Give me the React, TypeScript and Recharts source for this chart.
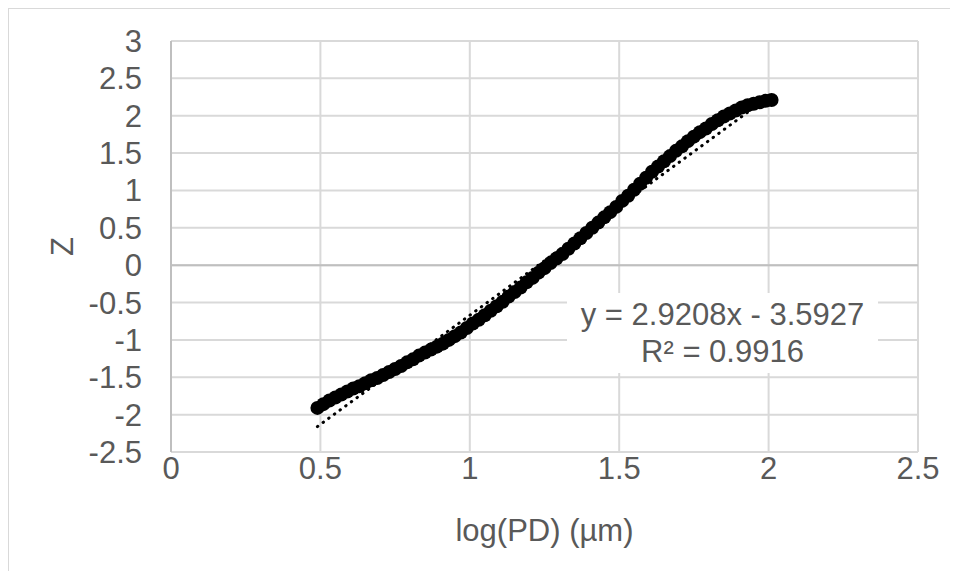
import React from "react";
import {
  CartesianGrid,
  ReferenceLine,
  Scatter,
  ScatterChart,
  XAxis,
  YAxis
} from "recharts";

// log(PD) values and matching Z scores
const LOG_PD = [
  0.49, 0.51, 0.53, 0.55, 0.57, 0.59, 0.61, 0.63, 0.65, 0.67, 0.69, 0.71, 0.73, 0.75, 0.77, 0.79,
  0.81, 0.83, 0.85, 0.87, 0.89, 0.91, 0.93, 0.95, 0.97, 0.99, 1.01, 1.03, 1.05, 1.07, 1.09, 1.11,
  1.13, 1.15, 1.17, 1.19, 1.21, 1.23, 1.25, 1.27, 1.29, 1.31, 1.33, 1.35, 1.37, 1.39, 1.41, 1.43,
  1.45, 1.47, 1.49, 1.51, 1.53, 1.55, 1.57, 1.59, 1.61, 1.63, 1.65, 1.67, 1.69, 1.71, 1.73, 1.75,
  1.77, 1.79, 1.81, 1.83, 1.85, 1.87, 1.89, 1.91, 1.93, 1.95, 1.97, 1.99, 2.01
];
const Z_SCORE = [
  -1.91, -1.86, -1.81, -1.77, -1.73, -1.69, -1.65, -1.62, -1.58, -1.54, -1.51, -1.47, -1.43, -1.39, -1.35, -1.3,
  -1.26, -1.21, -1.17, -1.13, -1.09, -1.05, -1.0, -0.95, -0.9, -0.84, -0.78, -0.73, -0.67, -0.61, -0.55, -0.49,
  -0.42, -0.36, -0.3, -0.23, -0.17, -0.1, -0.04, 0.03, 0.09, 0.15, 0.22, 0.29, 0.36, 0.43, 0.5, 0.57,
  0.64, 0.71, 0.78, 0.86, 0.93, 1.01, 1.09, 1.17, 1.25, 1.32, 1.39, 1.46, 1.53, 1.59, 1.66, 1.72,
  1.78, 1.83, 1.89, 1.94, 1.99, 2.03, 2.07, 2.11, 2.14, 2.16, 2.18, 2.2, 2.21
];

// linear trendline ends
const TREND_X = [0.49, 2.01];
const TREND_Y = [-2.16, 2.28];

const X_TICKS = [0, 0.5, 1, 1.5, 2, 2.5];
const Y_TICKS = [-2.5, -2, -1.5, -1, -0.5, 0, 0.5, 1, 1.5, 2, 2.5, 3];

const EQUATION = "y = 2.9208x - 3.5927";
const R_SQUARED = "R² = 0.9916";

const FONT = "'Liberation Sans', Arial, sans-serif";
const FS = 31;
const TEXT = "#595959";
const GRID = "#d9d9d9";
const AXIS = "#bfbfbf";

const points = LOG_PD.map((x, i) => ({ x, z: Z_SCORE[i] }));
const trend = TREND_X.map((x, i) => ({ x, z: TREND_Y[i] }));

const Dot = (props: any) => <circle cx={props.cx} cy={props.cy} r={7} fill="#000" />;
const NoDot = () => <g />;

export default function App() {
  return (
    <div
      style={{
        position: "relative",
        width: 942,
        height: 563,
        borderLeft: `1px solid ${GRID}`,
        borderTop: `1px solid ${GRID}`,
        boxSizing: "border-box",
        background: "#fff",
        fontFamily: FONT
      }}
    >
      <ScatterChart
        width={941}
        height={562}
        margin={{ top: 32, right: 32, bottom: 39, left: 0 }}
      >
        <CartesianGrid stroke={GRID} strokeWidth={2} />
        <XAxis
          type="number"
          dataKey="x"
          domain={[0, 2.5]}
          ticks={X_TICKS}
          interval={0}
          axisLine={false}
          tickLine={false}
          tickSize={0}
          tickMargin={5}
          height={80}
          tick={{ fill: TEXT, fontSize: FS, fontFamily: FONT }}
          label={(p: any) => (
            <text
              x={p.viewBox.x + p.viewBox.width / 2}
              y={521}
              dy="0.355em"
              textAnchor="middle"
              fill={TEXT}
              fontSize={FS}
              fontFamily={FONT}
            >
              log(PD) (µm)
            </text>
          )}
        />
        <YAxis
          type="number"
          dataKey="z"
          domain={[-2.5, 3]}
          ticks={Y_TICKS}
          interval={0}
          width={162}
          axisLine={{ stroke: AXIS, strokeWidth: 2 }}
          tickLine={false}
          tickSize={0}
          tickMargin={29}
          tick={{ fill: TEXT, fontSize: FS, fontFamily: FONT }}
          label={(p: any) => (
            <text
              x={53}
              y={p.viewBox.y + p.viewBox.height / 2}
              dy="0.355em"
              textAnchor="middle"
              fill={TEXT}
              fontSize={FS}
              fontFamily={FONT}
              transform={`rotate(-90 53 ${p.viewBox.y + p.viewBox.height / 2})`}
            >
              Z
            </text>
          )}
        />
        <ReferenceLine y={0} stroke={AXIS} strokeWidth={2} />
        <Scatter data={points} shape={Dot} isAnimationActive={false} />
        <Scatter
          data={trend}
          shape={NoDot}
          line={{ stroke: "#000", strokeWidth: 3, strokeDasharray: "0.5 6.5", strokeLinecap: "round" }}
          isAnimationActive={false}
        />
      </ScatterChart>
      <div
        style={{
          position: "absolute",
          left: 558,
          top: 284,
          width: 311,
          height: 80,
          background: "#fff",
          color: TEXT,
          fontSize: FS,
          lineHeight: "37px",
          paddingTop: 3,
          boxSizing: "border-box",
          textAlign: "center",
          whiteSpace: "nowrap"
        }}
      >
        <div>{EQUATION}</div>
        <div>{R_SQUARED}</div>
      </div>
    </div>
  );
}
